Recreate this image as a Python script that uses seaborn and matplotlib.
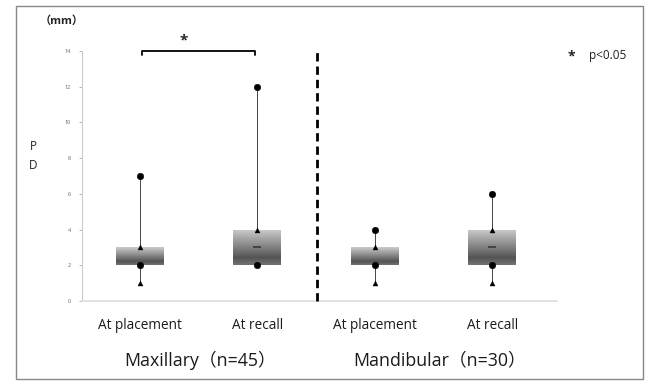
import numpy as np
import pandas as pd
import matplotlib
matplotlib.use("Agg")
import matplotlib.pyplot as plt
from matplotlib.patches import Rectangle
import seaborn as sns

# ---- data ----
groups = ["Maxillary（n=45）", "Mandibular（n=30）"]
categories = ["At placement", "At recall", "At placement", "At recall"]
whisker_low = [1, 2, 1, 1]
box_low = [2, 2, 2, 2]
median = [2, 3, 2, 3]
box_high = [3, 4, 3, 4]
whisker_high = [7, 12, 4, 6]
circle_vals = [[2, 7], [2, 12], [2, 4], [2, 6]]
triangle_vals = [[1, 3], [4], [1, 3], [1, 4]]
yticks = [0, 2, 4, 6, 8, 10, 12, 14]

sns.set_theme(style="white")
plt.rcParams["font.family"] = ["Open Sans", "Noto Sans CJK JP", "DejaVu Sans"]

fig = plt.figure(figsize=(6.48, 3.83), dpi=100)
ax = fig.add_axes([82/648, 1-301/383, (557-82)/648, (301-51)/383])

positions = np.arange(len(categories))
stats = []
for i in range(len(categories)):
    stats.append(dict(whislo=whisker_low[i], q1=box_low[i], med=median[i],
                      q3=box_high[i], whishi=whisker_high[i], fliers=[], label=categories[i]))

res = ax.bxp(stats, positions=positions, widths=0.41, patch_artist=True,
             showcaps=False,
             boxprops=dict(facecolor="none", edgecolor="none"),
             whiskerprops=dict(color="#444444", lw=0.7),
             medianprops=dict(lw=0))

# gradient fill for boxes (light top, darkest near bottom)
t = np.linspace(0, 1, 100)
g = np.where(t < 0.8, 0.80 - (0.80 - 0.33) * (t / 0.8), 0.33 + (t - 0.8) / 0.2 * 0.12)
grad = g.reshape(-1, 1)
for box in res["boxes"]:
    verts = box.get_path().vertices
    x0, x1 = verts[:, 0].min(), verts[:, 0].max()
    y0, y1 = verts[:, 1].min(), verts[:, 1].max()
    im = ax.imshow(grad, extent=[x0, x1, y0, y1], origin="upper", aspect="auto",
                   cmap="gray", vmin=0, vmax=1, zorder=1.5, interpolation="bilinear")
    im.set_clip_path(box)

# median dashes for boxes where median is inside
med_df = pd.DataFrame({"x": positions, "y": median})
med_df = med_df[med_df["y"] > pd.Series(box_low)]
sns.scatterplot(data=med_df, x="x", y="y", marker="_", s=40, color="#444444",
                linewidth=1.4, ax=ax, zorder=3)

circ = pd.DataFrame([(positions[i], v) for i, vs in enumerate(circle_vals) for v in vs], columns=["x", "y"])
tri = pd.DataFrame([(positions[i], v) for i, vs in enumerate(triangle_vals) for v in vs], columns=["x", "y"])
sns.scatterplot(data=circ, x="x", y="y", marker="o", s=22, color="black", edgecolor="black", ax=ax, zorder=4)
sns.scatterplot(data=tri, x="x", y="y", marker="^", s=13, color="black", edgecolor="black", ax=ax, zorder=4)

ax.set_xlim(-0.494, 3.553)
ax.set_ylim(0, 14)
ax.set_yticks(yticks)
ax.set_yticklabels([str(t) for t in yticks], fontsize=4, color="#666666")
ax.tick_params(axis="y", length=2, width=0.6, color="#aaaaaa", pad=6, left=True)
ax.set_xticks(positions)
ax.set_xticklabels(categories, fontsize=9.8, color="#1a1a1a")
ax.tick_params(axis="x", length=0, pad=12)
ax.set_xlabel("")
ax.set_ylabel("")
for s in ["top", "right"]:
    ax.spines[s].set_visible(False)
ax.spines["left"].set_color("#cccccc")
ax.spines["left"].set_linewidth(0.8)
ax.spines["bottom"].set_color("#dddddd")
ax.spines["bottom"].set_linewidth(1.2)

# dashed separator
ax.axvline(1.506, ymin=0, ymax=1, color="black", lw=2.0, ls=(0, (3, 1.8)), zorder=5, clip_on=False)

# significance bracket
ax.plot([0.02, 0.02, 0.98, 0.98], [13.75, 14, 14, 13.75], color="black", lw=1.3, clip_on=False)
ax.text(0.37, 14.6, "*", ha="center", va="center", fontsize=11, fontweight="bold", clip_on=False)

# group labels
fig.text(200/648, 1-360/383, groups[0], ha="center", va="center", fontsize=12.8, color="#1a1a1a")
fig.text(440/648, 1-360/383, groups[1], ha="center", va="center", fontsize=12.8, color="#1a1a1a")

# axis annotations
fig.text(40/648, 1-21/383, "（mm）", ha="left", va="center", fontsize=8, fontweight="bold", color="#222222")
fig.text(33/648, 1-146/383, "P", ha="center", va="center", fontsize=8.5, color="#222222")
fig.text(33/648, 1-165/383, "D", ha="center", va="center", fontsize=8.5, color="#222222")
fig.text(571/648, 1-56/383, "*", ha="center", va="center", fontsize=10, fontweight="bold", color="#222222")
fig.text(589/648, 1-56/383, "p<0.05", ha="left", va="center", fontsize=8.5, color="#222222")

# outer frame
fig.patches.append(Rectangle((16/648, 1-379/383), (643-16)/648, (379-6)/383,
                             transform=fig.transFigure, fill=False, edgecolor="#888888", lw=1.0))

fig.savefig("out.png", dpi=100)
